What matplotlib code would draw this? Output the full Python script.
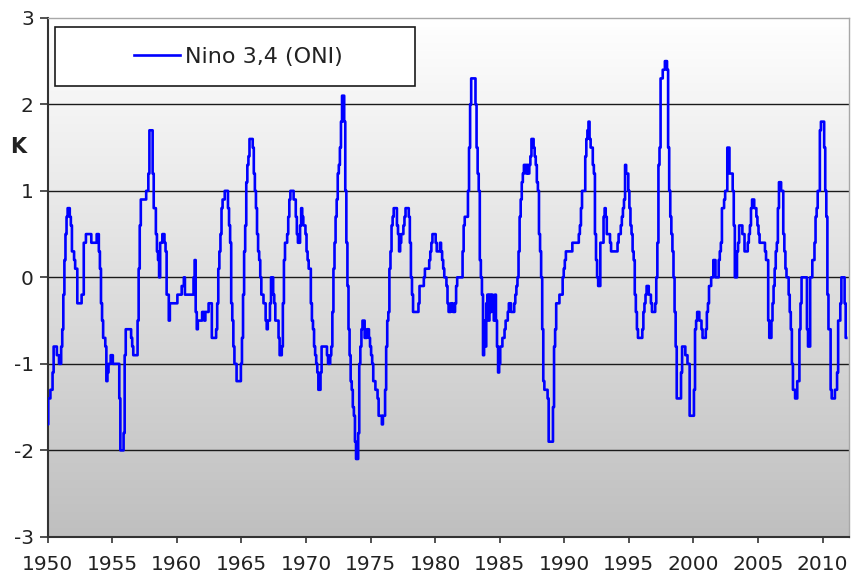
import numpy as np
import matplotlib
matplotlib.use("Agg")
import matplotlib.pyplot as plt
from matplotlib.colors import LinearSegmentedColormap
from matplotlib.patches import Rectangle

plt.rcParams["axes.unicode_minus"] = False

# monthly Nino 3.4 (ONI) values in K, one row per year
oni_1950s = [
    -1.7, -1.4, -1.4, -1.3, -1.3, -1.1, -0.8, -0.8, -0.8, -0.9, -0.9, -1.0,
    -1.0, -0.8, -0.6, -0.2, 0.2, 0.5, 0.7, 0.8, 0.8, 0.7, 0.6, 0.3,
    0.3, 0.2, 0.1, 0.1, -0.3, -0.3, -0.3, -0.3, -0.2, -0.2, 0.4, 0.4,
    0.5, 0.5, 0.5, 0.5, 0.5, 0.4, 0.4, 0.4, 0.4, 0.4, 0.5, 0.5,
    0.3, 0.1, -0.3, -0.5, -0.7, -0.7, -0.8, -1.2, -1.1, -1.0, -1.0, -0.9,
    -0.9, -1.0, -1.0, -1.0, -1.0, -1.0, -1.0, -1.4, -2.0, -2.0, -2.0, -1.8,
    -0.9, -0.6, -0.6, -0.6, -0.6, -0.6, -0.7, -0.8, -0.9, -0.9, -0.9, -0.9,
    -0.5, 0.1, 0.6, 0.9, 0.9, 0.9, 0.9, 0.9, 1.0, 1.0, 1.2, 1.7,
    1.7, 1.7, 1.2, 0.8, 0.8, 0.5, 0.3, 0.2, 0.0, 0.4, 0.4, 0.5,
    0.5, 0.4, 0.3, -0.2, -0.2, -0.5, -0.3, -0.3, -0.3, -0.3, -0.3, -0.3,
]
oni_1960s = [
    -0.3, -0.2, -0.2, -0.2, -0.2, -0.1, -0.1, 0.0, -0.2, -0.2, -0.2, -0.2,
    -0.2, -0.2, -0.2, -0.2, 0.0, 0.2, -0.4, -0.6, -0.5, -0.5, -0.5, -0.5,
    -0.4, -0.4, -0.5, -0.4, -0.4, -0.4, -0.3, -0.3, -0.3, -0.7, -0.7, -0.7,
    -0.7, -0.6, -0.3, 0.1, 0.3, 0.5, 0.8, 0.9, 0.9, 1.0, 1.0, 1.0,
    0.8, 0.6, 0.4, -0.3, -0.5, -0.8, -1.0, -1.0, -1.2, -1.2, -1.2, -1.2,
    -1.0, -0.7, -0.2, 0.3, 0.6, 1.1, 1.3, 1.4, 1.6, 1.6, 1.6, 1.5,
    1.2, 1.0, 0.8, 0.5, 0.3, 0.2, 0.0, -0.2, -0.2, -0.3, -0.3, -0.5,
    -0.6, -0.5, -0.5, -0.3, 0.0, 0.0, -0.2, -0.3, -0.5, -0.5, -0.5, -0.7,
    -0.9, -0.9, -0.8, -0.3, 0.2, 0.4, 0.4, 0.5, 0.7, 0.9, 1.0, 1.0,
    1.0, 0.9, 0.9, 0.7, 0.5, 0.4, 0.4, 0.6, 0.8, 0.7, 0.6, 0.6,
]
oni_1970s = [
    0.5, 0.3, 0.2, 0.1, 0.1, -0.3, -0.5, -0.6, -0.8, -0.9, -1.0, -1.1,
    -1.3, -1.3, -1.1, -0.8, -0.8, -0.8, -0.8, -0.8, -0.9, -1.0, -1.0, -0.9,
    -0.8, -0.4, 0.1, 0.4, 0.7, 0.9, 1.2, 1.3, 1.5, 1.8, 2.1, 2.1,
    1.8, 1.0, 0.4, -0.1, -0.6, -0.9, -1.2, -1.3, -1.5, -1.6, -1.9, -2.1,
    -2.1, -1.8, -1.0, -0.8, -0.6, -0.5, -0.5, -0.7, -0.7, -0.6, -0.6, -0.7,
    -0.8, -0.9, -1.0, -1.2, -1.2, -1.3, -1.3, -1.4, -1.6, -1.6, -1.6, -1.7,
    -1.6, -1.6, -1.3, -0.8, -0.5, -0.4, 0.1, 0.3, 0.6, 0.7, 0.8, 0.8,
    0.8, 0.6, 0.5, 0.3, 0.4, 0.5, 0.5, 0.6, 0.7, 0.8, 0.8, 0.8,
    0.7, 0.4, 0.0, -0.2, -0.4, -0.4, -0.4, -0.4, -0.4, -0.3, -0.1, -0.1,
    -0.1, -0.1, 0.0, 0.1, 0.1, 0.1, 0.1, 0.2, 0.3, 0.4, 0.5, 0.5,
]
oni_1980s = [
    0.5, 0.4, 0.3, 0.3, 0.3, 0.4, 0.3, 0.2, 0.1, 0.0, 0.0, -0.1,
    -0.3, -0.4, -0.4, -0.3, -0.3, -0.4, -0.4, -0.3, -0.1, 0.0, 0.0, 0.0,
    0.0, 0.0, 0.3, 0.6, 0.7, 0.7, 0.7, 1.0, 1.5, 2.0, 2.3, 2.3,
    2.3, 2.3, 2.0, 1.5, 1.2, 1.0, 0.2, 0.0, -0.2, -0.9, -0.5, -0.8,
    -0.3, -0.2, -0.5, -0.2, -0.4, -0.2, -0.3, -0.5, -0.2, -0.5, -0.8, -1.1,
    -1.0, -0.8, -0.8, -0.7, -0.7, -0.6, -0.5, -0.5, -0.4, -0.3, -0.3, -0.4,
    -0.4, -0.4, -0.3, -0.2, -0.1, 0.0, 0.3, 0.7, 0.9, 1.1, 1.2, 1.3,
    1.3, 1.2, 1.3, 1.2, 1.3, 1.4, 1.6, 1.6, 1.5, 1.4, 1.3, 1.1,
    1.0, 0.5, 0.3, 0.0, -0.6, -1.2, -1.3, -1.3, -1.3, -1.4, -1.9, -1.9,
    -1.9, -1.9, -1.5, -0.8, -0.6, -0.3, -0.3, -0.3, -0.2, -0.2, -0.2, 0.0,
]
oni_1990s = [
    0.1, 0.2, 0.3, 0.3, 0.3, 0.3, 0.3, 0.3, 0.4, 0.4, 0.4, 0.4,
    0.4, 0.4, 0.5, 0.6, 0.8, 1.0, 1.0, 1.0, 1.4, 1.6, 1.7, 1.8,
    1.6, 1.5, 1.5, 1.3, 1.2, 0.5, 0.2, 0.0, -0.1, -0.1, 0.4, 0.4,
    0.4, 0.7, 0.8, 0.7, 0.5, 0.5, 0.5, 0.4, 0.3, 0.3, 0.3, 0.3,
    0.3, 0.3, 0.4, 0.5, 0.5, 0.6, 0.7, 0.8, 0.9, 1.3, 1.2, 1.2,
    1.0, 0.8, 0.6, 0.5, 0.3, 0.2, -0.2, -0.4, -0.6, -0.7, -0.7, -0.7,
    -0.7, -0.6, -0.4, -0.3, -0.2, -0.1, -0.1, -0.2, -0.2, -0.3, -0.4, -0.4,
    -0.4, -0.3, 0.0, 0.4, 1.3, 1.5, 2.3, 2.3, 2.4, 2.4, 2.5, 2.5,
    2.4, 1.5, 1.0, 0.7, 0.5, 0.3, 0.0, -0.4, -0.8, -1.4, -1.4, -1.4,
    -1.4, -1.1, -0.8, -0.8, -0.8, -0.9, -0.9, -1.0, -1.0, -1.6, -1.6, -1.6,
]
oni_2000s = [
    -1.6, -1.3, -0.6, -0.5, -0.4, -0.4, -0.5, -0.5, -0.6, -0.7, -0.7, -0.7,
    -0.6, -0.4, -0.3, -0.1, -0.1, 0.0, 0.0, 0.2, 0.2, 0.0, 0.0, 0.0,
    0.2, 0.3, 0.4, 0.8, 0.8, 0.9, 1.0, 1.0, 1.5, 1.5, 1.2, 1.2,
    1.2, 1.0, 0.6, 0.0, 0.0, 0.3, 0.4, 0.6, 0.6, 0.6, 0.5, 0.5,
    0.3, 0.3, 0.3, 0.4, 0.5, 0.6, 0.8, 0.9, 0.9, 0.8, 0.8, 0.7,
    0.6, 0.5, 0.4, 0.4, 0.4, 0.4, 0.4, 0.3, 0.2, 0.2, -0.5, -0.7,
    -0.7, -0.5, -0.3, -0.1, 0.1, 0.3, 0.4, 0.8, 1.1, 1.1, 1.0, 1.0,
    0.5, 0.3, 0.1, 0.0, 0.0, -0.2, -0.4, -0.6, -1.0, -1.3, -1.3, -1.4,
    -1.4, -1.2, -1.2, -0.6, -0.3, 0.0, 0.0, 0.0, 0.0, 0.0, -0.6, -0.8,
    -0.8, 0.0, 0.0, 0.2, 0.2, 0.4, 0.7, 0.8, 1.0, 1.0, 1.7, 1.8,
]
oni_2010s = [
    1.8, 1.8, 1.5, 1.0, 0.7, -0.2, -0.6, -0.6, -1.3, -1.4, -1.4, -1.4,
    -1.3, -1.3, -1.1, -0.5, -0.5, -0.3, 0.0, 0.0, 0.0, -0.3, -0.7,
]

start_year = 1950
x_ticks = list(range(1950, 2011, 5))
y_ticks = list(range(-3, 4))
grid_levels = [-2, -1, 0, 1, 2]
series_label = "Nino 3,4 (ONI)"

oni = np.array(oni_1950s + oni_1960s + oni_1970s + oni_1980s
               + oni_1990s + oni_2000s + oni_2010s)
years = start_year + np.arange(len(oni)) / 12.0

fig = plt.figure(figsize=(8.52, 5.76), dpi=100)
ax = fig.add_axes([0.056, 0.068, 0.9405, 0.901])

x_min, x_max = 1950, 2012.05
y_min, y_max = -3, 3

# white-to-grey background like the spreadsheet plot area
bg = LinearSegmentedColormap.from_list("bg", ["#bfbfbf", "#ffffff"])
grad = np.linspace(1, 0, 256).reshape(-1, 1)
ax.imshow(grad, extent=[x_min, x_max, y_min, y_max], aspect="auto",
          cmap=bg, origin="upper", zorder=0)

for lev in grid_levels:
    ax.axhline(lev, color="#1a1a1a", lw=1.0, zorder=1)

ax.plot(years, oni, color="#0000ff", lw=1.9, drawstyle="steps-mid",
        zorder=3, label=series_label)

ax.set_xlim(x_min, x_max)
ax.set_ylim(y_min, y_max)
ax.set_xticks(x_ticks)
ax.set_yticks(y_ticks)

for side in ["left", "bottom"]:
    ax.spines[side].set_color("#333333")
    ax.spines[side].set_linewidth(1.5)
for side in ["top", "right"]:
    ax.spines[side].set_color("#a8a8a8")
    ax.spines[side].set_linewidth(1.0)

ax.tick_params(axis="y", length=6, width=1.2, pad=4, labelsize=14.5,
               color="#333333", labelcolor="#222222")
ax.tick_params(axis="x", length=4, width=1.2, pad=9, labelsize=14.5,
               color="#333333", labelcolor="#222222")

fig.text(18 / 852, 1 - 147 / 576, "K", fontsize=15, fontweight="bold",
         ha="center", va="center", color="#222222")

# legend box
ax.add_patch(Rectangle((0.0091, 0.868), 0.449, 0.114, transform=ax.transAxes,
                       facecolor="white", edgecolor="#1a1a1a", lw=1.2,
                       zorder=4))
ax.legend(loc="center", bbox_to_anchor=(0.2375, 0.925), frameon=False,
          fontsize=16, handlelength=2.1, handletextpad=0.2,
          labelcolor="#222222").set_zorder(5)

fig.savefig("out.png", dpi=100)
